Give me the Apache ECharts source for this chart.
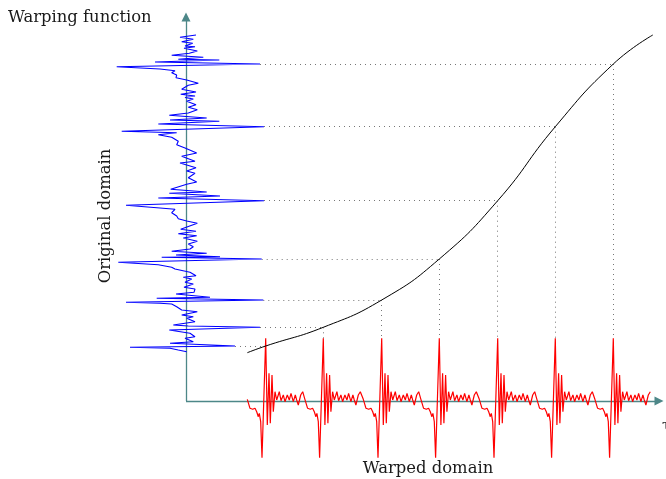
<!DOCTYPE html>
<html>
<head>
<meta charset="utf-8">
<script src="https://cdn.jsdelivr.net/npm/echarts@6/dist/echarts.min.js"></script>
<style>
  html, body { margin: 0; padding: 0; background: #ffffff; }
  #chart { width: 666px; height: 479px; }
</style>
</head>
<body>
<div id="chart"></div>
<script>
// One heartbeat of the warped (red) signal: sample time relative to the R peak, and amplitude
const beatOffset = [-18.4, -15.7, -13.0, -10.7, -9.0, -7.4, -6.4, -5.0, -3.7, 0.0,
                    1.6, 3.3, 4.6, 6.3, 7.6, 9.3, 11.0, 13.6, 15.3, 17.6,
                    19.3, 21.6, 23.6, 25.3, 27.6, 29.6, 31.0, 32.6, 35.0, 37.0];
const beatAmp    = [1.7, -7.3, -8.3, -7.3, -10.7, -15.7, -12.3, -20.7, -56.7, 62.7,
                    -24, 27.7, -22.3, 26, -10.7, 9.3, 1, 9.3, 0.3, 6,
                    -0.7, 6, 1, 7.7, -0.7, 6, 1, -4, 6, 9.3];

// R-peak times in the warped domain and the matching positions in the original domain
const peakTimes     = [79.7, 137.3, 195.7, 253.3, 311.7, 369.3, 427.3];
const peakPositions = [55, 73.7, 101, 142, 200.3, 274.3, 337];
// Height of each R peak in the original (blue) signal
const origPeakAmp   = [49, 74, 77.3, 75.7, 78, 78, 74];

// Warping function: warped time -> original-domain position
const warpTime = [61.3, 79.7, 137.3, 195.7, 253.3, 311.7, 369.3, 427.3, 466.8];
const warpPos  = [48.3, 55, 73.7, 101, 142, 200.3, 274.3, 337, 366];

// Original (blue) signal, drawn along the vertical axis: position and amplitude
const origPos = [49.3, 51, 52.7, 53.7, 55, 57.7, 59.3, 62.7, 64.3, 67.7,
                 71, 73.7, 75, 76, 79.3, 82.7, 84.3, 86, 89.3, 91,
                 94.3, 97, 97.7, 98.7, 101, 102.7, 103.7, 107, 108.7, 112,
                 113.7, 117, 118.7, 122, 123.7, 125.3, 128.7, 132, 133.7, 136.3,
                 138.7, 142, 143.7, 144.3, 146, 147.7, 149.7, 152, 154.3, 157,
                 159.7, 163, 165.3, 167.3, 169.7, 171.7, 177.7, 180, 182.3, 185,
                 188.3, 191.7, 193, 195.7, 200.3, 203, 205, 207.7, 209, 211.7,
                 216.7, 219, 223.3, 227.7, 230, 233.3, 238, 239.7, 244.7, 248,
                 253, 256.3, 259.7, 263.7, 266.3, 268.3, 269.7, 274.3, 277, 279.7,
                 281, 283, 285.7, 288, 291.3, 293.7, 296.3, 299.7, 302, 303.5,
                 305, 306.7, 309, 311.7, 315.7, 317.7, 321, 323.3, 326, 328.3,
                 330.3, 332, 334.3, 337, 339, 341, 341.7, 343.7, 345.7, 347.7,
                 350, 352.7, 354.3, 355, 357.7, 359.3, 361.7, 363.7, 366];
const origAmp = [0.7, -7.7, -16, -56, 49, -16, 7.3, -1, 9, 4,
                 -16.7, 74, 2.3, -12.7, 9, 0.7, 7.3, -4.3, 11.3, -4.3,
                 -9.3, -14.3, -26, -60, 77.3, -29.3, 24, -10, 8, 9,
                 -2, 7.3, -1, 5.7, -2.7, 10, 4, -11, -14.3, -27.7,
                 -67.7, 75.7, -24.3, 34, -10, 20.7, -14.3, 4, 7.3, 2.3,
                 11.3, -2.7, 10.7, -7.7, 10, -5.3, 11.3, 0.7, -7.7, -9.3,
                 -14.3, -11, -26, -60, 78, -27.7, 34, -16.7, 20.7, -15.3,
                 0.7, 10.7, 2.3, 9, 0.7, 10, -6, 9, -4.3, 10.7,
                 -1, -9.3, -7.7, -14.3, -27.7, -9.3, -64.3, 78, -27.7, 33.3,
                 -16, 20.7, -16.7, 2.3, 11.3, 2.3, 10, 0.7, 7.3, -1,
                 9, -5.3, 10, -4.3, 2.3, 12.3, 0.7, -10, -9.3, -14.3,
                 -11, -26, -69.3, 74, -31, 33.3, -7.7, 17.3, -14.3, 3.3,
                 11.3, -2, 9, -1, 6.7, -4.3, 7.3, -6, 10];

// Extent of the two drawn axes (arrow heads sit at the far ends)
const axisEndTime = 473;
const axisEndPos = 384;

// Warped signal: each beat placed at its R-peak time
const warpedData = [];
peakTimes.forEach(function (p) {
  beatOffset.forEach(function (o, k) { warpedData.push([p + o, beatAmp[k]]); });
});
const originalData = origPos.map(function (s, i) { return [origAmp[i], s]; });
const warpData = warpTime.map(function (t, i) { return [t, warpPos[i]]; });

// Guides: original peak -> warping curve -> warped peak
const peakHeight = Math.max.apply(null, beatAmp);
const guideLines = [];
peakTimes.forEach(function (t, i) {
  guideLines.push({ coords: [[origPeakAmp[i], peakPositions[i]], [t, peakPositions[i]]] });
  guideLines.push({ coords: [[t, peakPositions[i]], [t, peakHeight]] });
});

const axisColor = '#4d8788';
const serif = '"DejaVu Serif", "Liberation Serif", serif';
const hiddenAxis = {
  type: 'value',
  axisLine: { show: false }, axisTick: { show: false },
  axisLabel: { show: false }, splitLine: { show: false }
};

const chart = echarts.init(document.getElementById('chart'), null, { renderer: 'canvas' });
chart.setOption({
  animation: false,
  backgroundColor: '#ffffff',
  grid: { left: 100, right: 2, top: 10, bottom: 14 },
  xAxis: Object.assign({ min: -86, max: 478 }, hiddenAxis),
  yAxis: Object.assign({ min: -64, max: 391 }, hiddenAxis),
  series: [
    {
      name: 'Axes', type: 'lines', coordinateSystem: 'cartesian2d', silent: true, z: 1,
      symbol: ['none', 'triangle'], symbolSize: [6, 9],
      lineStyle: { color: axisColor, width: 1.3, opacity: 1 },
      itemStyle: { color: axisColor },
      data: [
        { coords: [[0, 0], [axisEndTime, 0]] },
        { coords: [[0, 0], [0, axisEndPos]] }
      ]
    },
    {
      name: 'Guides', type: 'lines', coordinateSystem: 'cartesian2d', silent: true, z: 1,
      lineStyle: { color: '#777777', width: 1, type: [1, 4], opacity: 1 },
      data: guideLines
    },
    {
      name: 'Warping function', type: 'line', data: warpData,
      smooth: 0.5,
      showSymbol: false, z: 3,
      lineStyle: { color: '#000000', width: 1 }
    },
    {
      name: 'Original', type: 'line', data: originalData,
      showSymbol: false, z: 2,
      lineStyle: { color: '#0000ff', width: 1.1 }
    },
    {
      name: 'Warped', type: 'line', data: warpedData,
      showSymbol: false, z: 2,
      lineStyle: { color: '#ff0000', width: 1.2 }
    }
  ],
  graphic: [
    { type: 'text', x: 8, y: 18, silent: true,
      style: { text: 'Warping function', font: '16.4px ' + serif, fill: '#1a1a1a',
               align: 'left', verticalAlign: 'middle' } },
    { type: 'text', x: 106, y: 216, rotation: Math.PI / 2, silent: true,
      style: { text: 'Original domain', font: '16.4px ' + serif, fill: '#1a1a1a',
               align: 'center', verticalAlign: 'middle' } },
    { type: 'text', x: 428, y: 469, silent: true,
      style: { text: 'Warped domain', font: '16.4px ' + serif, fill: '#1a1a1a',
               align: 'center', verticalAlign: 'middle' } },
    { type: 'text', x: 662, y: 426, silent: true,
      style: { text: 'τ', font: '15px ' + serif, fill: '#1a1a1a',
               align: 'left', verticalAlign: 'middle' } }
  ]
});
</script>
</body>
</html>
